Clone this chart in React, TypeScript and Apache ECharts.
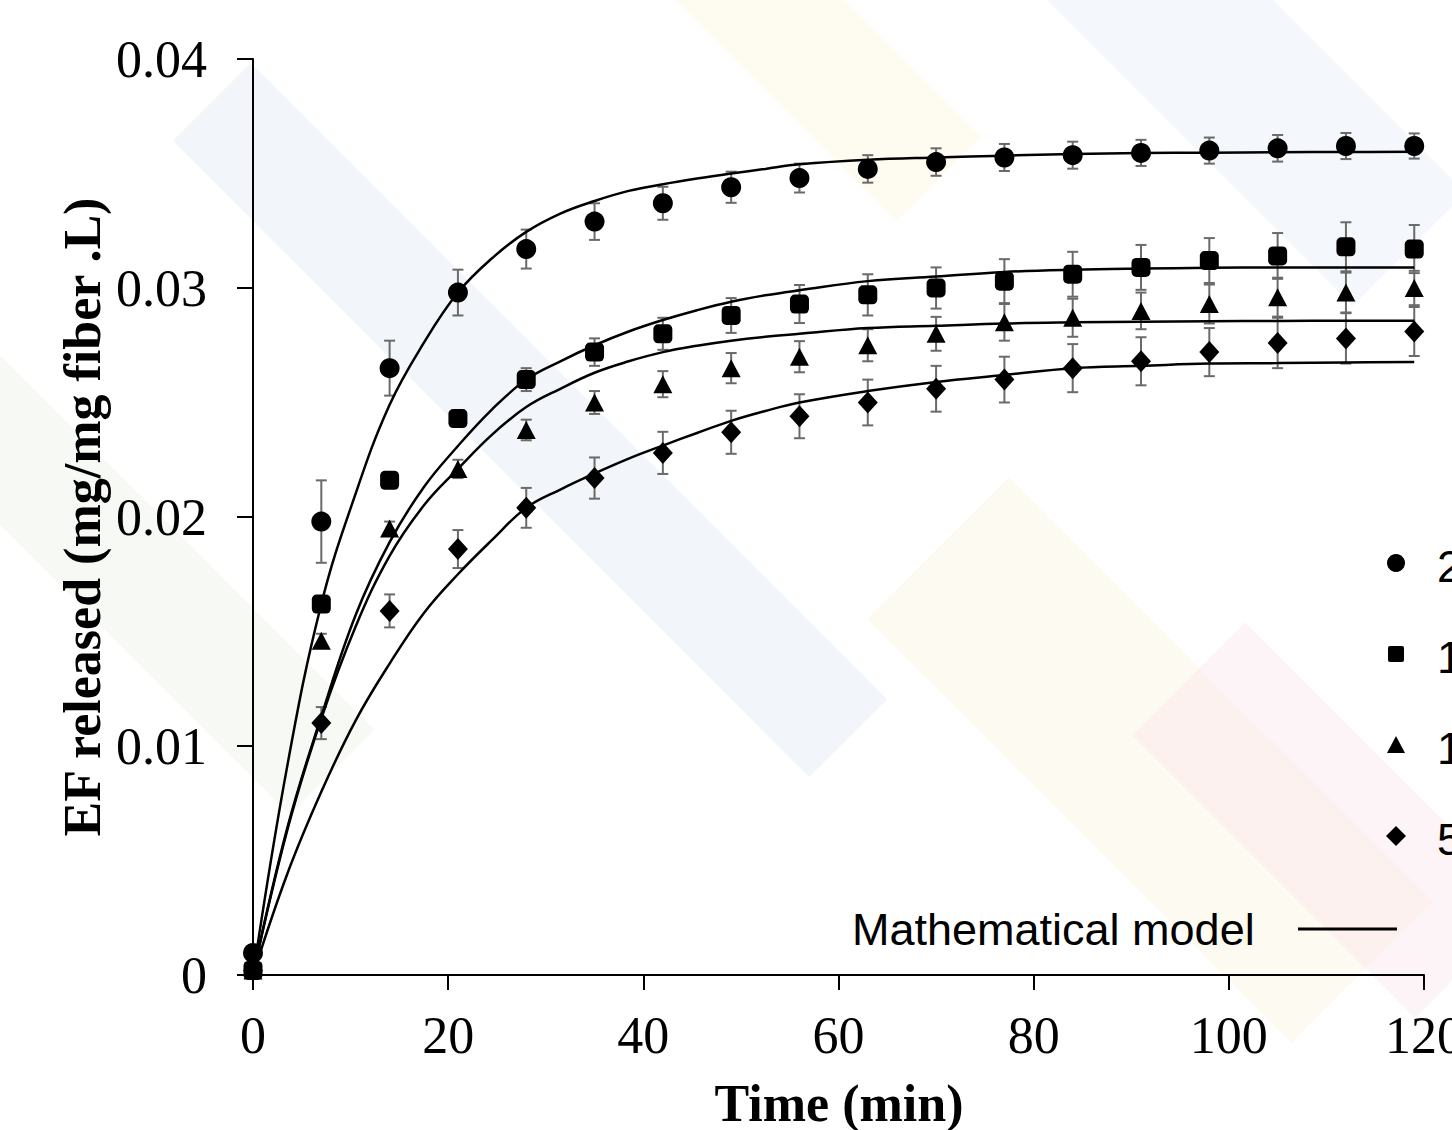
import React, { useEffect, useRef } from "react";
import * as echarts from "echarts";

// ---- data ----
const times = [0, 7, 14, 21, 28, 35, 42, 49, 56, 63, 70, 77, 84, 91, 98, 105, 112, 119];

const circleVals = [0.00096, 0.0198, 0.0265, 0.0298, 0.0317, 0.0329, 0.0337, 0.0344, 0.0348, 0.0352, 0.0355, 0.0357, 0.0358, 0.0359, 0.036, 0.0361, 0.0362, 0.0362];
const circleErr = [0, 0.0018, 0.0012, 0.001, 0.00085, 0.0008, 0.00072, 0.00068, 0.00063, 0.0006, 0.0006, 0.00059, 0.00059, 0.00057, 0.00057, 0.00058, 0.00057, 0.00055];

const squareVals = [0.0002, 0.0162, 0.0216, 0.0243, 0.026, 0.0272, 0.028, 0.0288, 0.0293, 0.0297, 0.03, 0.0303, 0.0306, 0.0309, 0.0312, 0.0314, 0.0318, 0.0317];
const squareErr = [0, 0.0003, 0.0003, 0.0003, 0.0005, 0.0006, 0.0007, 0.00076, 0.00083, 0.0009, 0.0009, 0.00096, 0.00098, 0.00098, 0.00098, 0.001, 0.00107, 0.00105];

const triangleVals = [0.0002, 0.0146, 0.0195, 0.0221, 0.0238, 0.025, 0.0258, 0.0265, 0.027, 0.0275, 0.028, 0.0285, 0.0287, 0.029, 0.0293, 0.0296, 0.0298, 0.03];
const triangleErr = [0, 0.0003, 0.0003, 0.0004, 0.00045, 0.0005, 0.00057, 0.00066, 0.00068, 0.0007, 0.00074, 0.0008, 0.00083, 0.0008, 0.00085, 0.00085, 0.00087, 0.00075];

const diamondVals = [0.0002, 0.011, 0.0159, 0.0186, 0.0204, 0.0217, 0.0228, 0.0237, 0.0244, 0.025, 0.0256, 0.026, 0.0265, 0.0268, 0.0272, 0.0276, 0.0278, 0.0281];
const diamondErr = [0, 0.0007, 0.00072, 0.00083, 0.00087, 0.0009, 0.00092, 0.00094, 0.00096, 0.001, 0.001, 0.001, 0.00105, 0.00105, 0.00105, 0.0011, 0.0011, 0.00107];

const modelTimes = [0, 3.5, 7, 10.5, 14, 17.5, 21, 24.5, 28, 31.5, 35, 38.5, 42, 45.5, 49, 52.5, 56, 63, 70, 77, 84, 91, 98, 105, 112, 119];
const circleModel = [0, 0.0091, 0.0162, 0.021, 0.0249, 0.0276, 0.0298, 0.0313, 0.03245, 0.03325, 0.0338, 0.03424, 0.03453, 0.03478, 0.035, 0.0352, 0.0354, 0.0356, 0.0357, 0.03578, 0.03585, 0.03589, 0.03591, 0.03593, 0.03594, 0.03595];
const squareModel = [0, 0.0064, 0.0113, 0.0157, 0.0189, 0.0213, 0.0231, 0.0247, 0.026, 0.0268, 0.0275, 0.0281, 0.0286, 0.02903, 0.0294, 0.02968, 0.0299, 0.0303, 0.0305, 0.0307, 0.0308, 0.03085, 0.03088, 0.0309, 0.0309, 0.0309];
const triangleModel = [0, 0.0063, 0.0112, 0.0152, 0.0183, 0.0205, 0.0221, 0.0236, 0.0248, 0.0256, 0.0263, 0.0268, 0.0272, 0.02748, 0.0277, 0.02787, 0.028, 0.02825, 0.02835, 0.02845, 0.0285, 0.02853, 0.02855, 0.02856, 0.02857, 0.02857];
const diamondModel = [0, 0.0044, 0.008, 0.0111, 0.0136, 0.0158, 0.0175, 0.019, 0.0204, 0.0212, 0.0219, 0.02255, 0.02312, 0.02367, 0.0242, 0.02463, 0.025, 0.0255, 0.0259, 0.0262, 0.0265, 0.0266, 0.0267, 0.02672, 0.02675, 0.02677];

const legendLabels = ["2", "1", "1", "5"];
const modelLabel = "Mathematical model";
const xTitle = "Time (min)";
const yTitle = "EF released (mg/mg fiber .L)";

const SERIF = "'Liberation Serif', 'Times New Roman', serif";
const SANS = "'Liberation Sans', Arial, sans-serif";

function errData(vals: number[], errs: number[]) {
  const out: number[][] = [];
  times.forEach((t, i) => {
    if (errs[i] > 0) out.push([t, vals[i] - errs[i], vals[i] + errs[i]]);
  });
  return out;
}

function errSeries(vals: number[], errs: number[]) {
  return {
    type: "custom",
    z: 2,
    encode: { x: 0, y: [1, 2] },
    data: errData(vals, errs),
    renderItem: (params: any, api: any) => {
      const x = api.value(0);
      const top = api.coord([x, api.value(2)]);
      const bot = api.coord([x, api.value(1)]);
      const w = 5.5;
      const style = { stroke: "#6a6a6a", lineWidth: 2 };
      return {
        type: "group",
        children: [
          { type: "line", shape: { x1: top[0], y1: top[1], x2: bot[0], y2: bot[1] }, style },
          { type: "line", shape: { x1: top[0] - w, y1: top[1], x2: top[0] + w, y2: top[1] }, style },
          { type: "line", shape: { x1: bot[0] - w, y1: bot[1], x2: bot[0] + w, y2: bot[1] }, style },
        ],
      };
    },
  };
}

function scatter(vals: number[], symbol: string, size: any) {
  return {
    type: "scatter",
    z: 4,
    symbol,
    symbolSize: size,
    itemStyle: { color: "#000", opacity: 1 },
    data: times.map((t, i) => [t, vals[i]]),
  };
}

function model(vals: number[]) {
  return {
    type: "line",
    z: 3,
    smooth: 0.4,
    showSymbol: false,
    lineStyle: { color: "#000", width: 2.5 },
    data: modelTimes.map((t, i) => [t, vals[i]]),
  };
}

function stripe(cx: number, cy: number, w: number, h: number, color: string, opacity: number) {
  return {
    type: "rect",
    z: -10,
    silent: true,
    x: cx,
    y: cy,
    rotation: -Math.PI / 4,
    shape: { x: -w / 2, y: -h / 2, width: w, height: h },
    style: { fill: color, opacity },
  };
}

export default function App() {
  const ref = useRef<HTMLDivElement>(null);
  useEffect(() => {
    if (!ref.current) return;
    const chart = echarts.init(ref.current, undefined, { renderer: "svg" });
    const legendY = [563, 654, 745, 836];
    const lx = 1396;
    chart.setOption({
      animation: false,
      backgroundColor: "#fff",
      grid: { left: 253, right: 28, top: 59, bottom: 155, containLabel: false, outerBoundsMode: "none" },
      xAxis: {
        type: "value",
        min: 0,
        max: 120,
        interval: 20,
        splitLine: { show: false },
        axisLine: { lineStyle: { color: "#000", width: 2 } },
        axisTick: { length: 15, lineStyle: { color: "#000", width: 2 } },
        axisLabel: { color: "#000", fontFamily: SERIF, fontSize: 52, margin: 34 },
      },
      yAxis: {
        type: "value",
        min: 0,
        max: 0.04,
        interval: 0.01,
        splitLine: { show: false },
        axisLine: { show: true, lineStyle: { color: "#000", width: 2 } },
        axisTick: { show: true, length: 16, lineStyle: { color: "#000", width: 2 } },
        axisLabel: { color: "#000", fontFamily: SERIF, fontSize: 52, margin: 46 },
      },
      series: [
        errSeries(circleVals, circleErr),
        errSeries(squareVals, squareErr),
        errSeries(triangleVals, triangleErr),
        errSeries(diamondVals, diamondErr),
        model(circleModel),
        model(squareModel),
        model(triangleModel),
        model(diamondModel),
        scatter(circleVals, "circle", 20),
        scatter(squareVals, "roundRect", 19),
        scatter(triangleVals, "triangle", [19, 18]),
        scatter(diamondVals, "diamond", [20, 22]),
      ],
      graphic: [
        stripe(530, 420, 900, 110, "#dfe6ef", 0.4),
        stripe(780, 20, 450, 120, "#fbf3d6", 0.35),
        stripe(1150, 760, 600, 200, "#fbf6dc", 0.4),
        stripe(1250, 90, 450, 160, "#e3eef7", 0.4),
        stripe(1330, 820, 400, 160, "#f9e3ec", 0.4),
        stripe(120, 560, 600, 120, "#eef5e6", 0.45),
        {
          type: "text",
          x: 82,
          y: 517,
          rotation: Math.PI / 2,
          style: { text: yTitle, fill: "#000", font: `bold 52px ${SERIF}`, align: "center", verticalAlign: "middle" },
        },
        {
          type: "text",
          x: 839,
          y: 1103,
          style: { text: xTitle, fill: "#000", font: `bold 52px ${SERIF}`, align: "center", verticalAlign: "middle" },
        },
        {
          type: "text",
          x: 852,
          y: 929,
          style: { text: modelLabel, fill: "#000", font: `45px ${SANS}`, align: "left", verticalAlign: "middle" },
        },
        { type: "line", shape: { x1: 1298, y1: 929, x2: 1397, y2: 929 }, style: { stroke: "#000", lineWidth: 3 } },
        { type: "circle", shape: { cx: lx, cy: legendY[0], r: 9 }, style: { fill: "#000" } },
        { type: "rect", shape: { x: lx - 8, y: legendY[1] - 8, width: 16, height: 16, r: 2 }, style: { fill: "#000" } },
        {
          type: "polygon",
          shape: { points: [[lx, legendY[2] - 9], [lx + 9, legendY[2] + 8], [lx - 9, legendY[2] + 8]] },
          style: { fill: "#000" },
        },
        {
          type: "polygon",
          shape: { points: [[lx, legendY[3] - 10], [lx + 10, legendY[3]], [lx, legendY[3] + 10], [lx - 10, legendY[3]]] },
          style: { fill: "#000" },
        },
        ...legendLabels.map((t, i) => ({
          type: "text",
          x: 1437,
          y: legendY[i] + 3,
          style: { text: t, fill: "#000", font: `45px ${SANS}`, align: "left", verticalAlign: "middle" },
        })),
      ],
    });
    return () => chart.dispose();
  }, []);
  return <div ref={ref} style={{ position: "absolute", left: 0, top: 0, width: 1452, height: 1130 }} />;
}
